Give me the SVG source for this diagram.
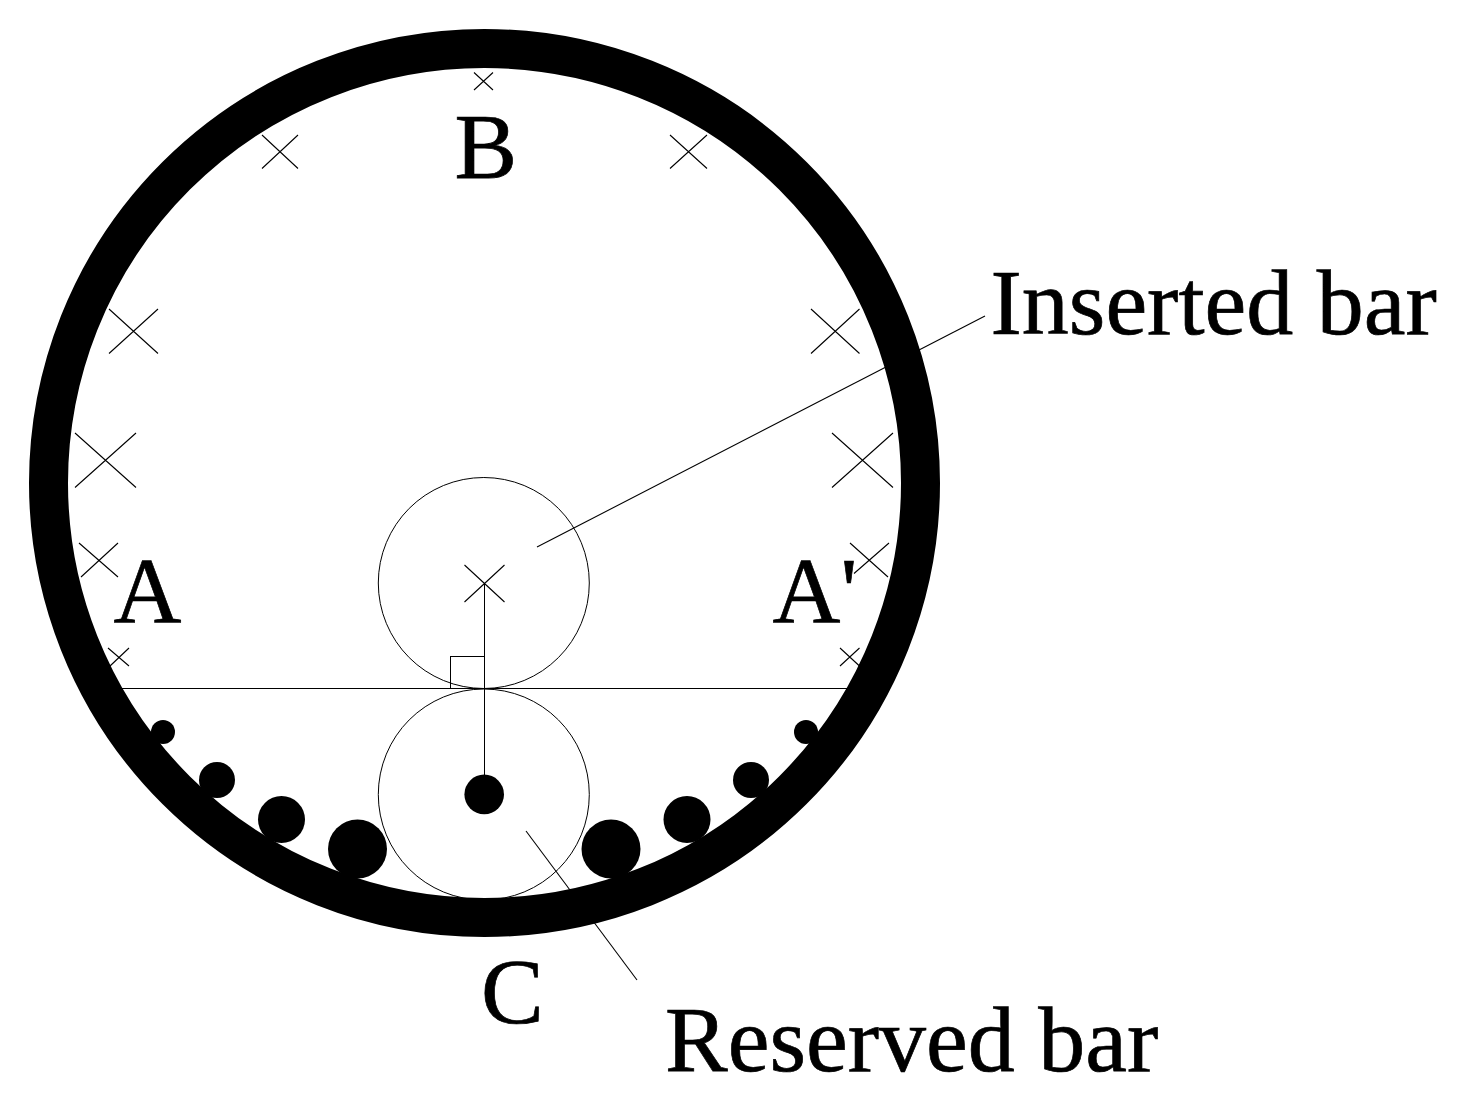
<svg xmlns="http://www.w3.org/2000/svg" width="1460" height="1093" viewBox="0 0 1460 1093">
<style>
.l{fill:none;stroke:#000;stroke-width:1;shape-rendering:crispEdges}
.x{fill:none;stroke:#000;stroke-width:1.100}
.c{fill:none;stroke:#000;stroke-width:1}
.t{font-family:"Liberation Serif","Times New Roman",serif;font-size:94px;fill:#000;stroke:#000;stroke-width:.7}
.d{fill:#000}
</style>
<rect width="1460" height="1093" fill="#fff"/>
<g id="ring"><ellipse cx="484.500" cy="483" rx="436" ry="434.500" fill="none" stroke="#000" stroke-width="39"/></g>
<g id="crosses">
<path class="x" d="M474 72.500L493 90M493 72.500L474 90"/>
<path class="x" d="M262 135L298 168.500M298 135L262 168.500"/>
<path class="x" d="M670 135L707 168.500M707 135L670 168.500"/>
<path class="x" d="M109 309L158 353.500M158 309L109 353.500"/>
<path class="x" d="M811 309L859.500 353.500M859.500 309L811 353.500"/>
<path class="x" d="M75 433L136 487.500M136 433L75 487.500"/>
<path class="x" d="M832 433L893 487.500M893 433L832 487.500"/>
<path class="x" d="M79 543L118 577M118 543L81 577"/>
<path class="x" d="M850 543L888 577M889 543L854 573.500"/>
<path class="x" d="M108 648L129 666M129 648L110 666"/>
<path class="x" d="M840 648L859.500 666M859.500 648L840 666"/>
<path class="x" d="M464.500 565L504.500 602M504.500 565L464.500 602"/>
</g>
<g id="dots">
<circle class="d" cx="163" cy="732" r="12"/>
<circle class="d" cx="217" cy="780" r="18"/>
<circle class="d" cx="281.500" cy="819.500" r="23.500"/>
<circle class="d" cx="357.500" cy="849" r="29.500"/>
<circle class="d" cx="806" cy="732" r="12"/>
<circle class="d" cx="751" cy="780" r="18"/>
<circle class="d" cx="687" cy="819.500" r="23.500"/>
<circle class="d" cx="611" cy="849" r="29.500"/>
<circle class="d" cx="484.200" cy="794.400" r="19.800"/>
</g>
<g id="inserted-bar"><circle class="c" cx="483.800" cy="583" r="105.500"/></g>
<g id="reserved-bar"><circle class="c" cx="483.800" cy="794.500" r="105.500"/></g>
<g id="connectors">
<path class="l" d="M120 688.500H848"/>
<path class="l" d="M484.500 583V795"/>
<path class="l" d="M450.500 688V656.500H484"/>
<path class="x" d="M537 547L985 316"/>
<path class="x" d="M526 831L637 980"/>
</g>
<g id="labels">
<text class="t" x="454.500" y="178">B</text>
<text class="t" x="113.500" y="622">A</text>
<text class="t" x="772.500" y="622">A'</text>
<text class="t" x="481" y="1023">C</text>
<text class="t" x="990.500" y="334">Inserted bar</text>
<text class="t" x="665" y="1071">Reserved bar</text>
</g>
</svg>
